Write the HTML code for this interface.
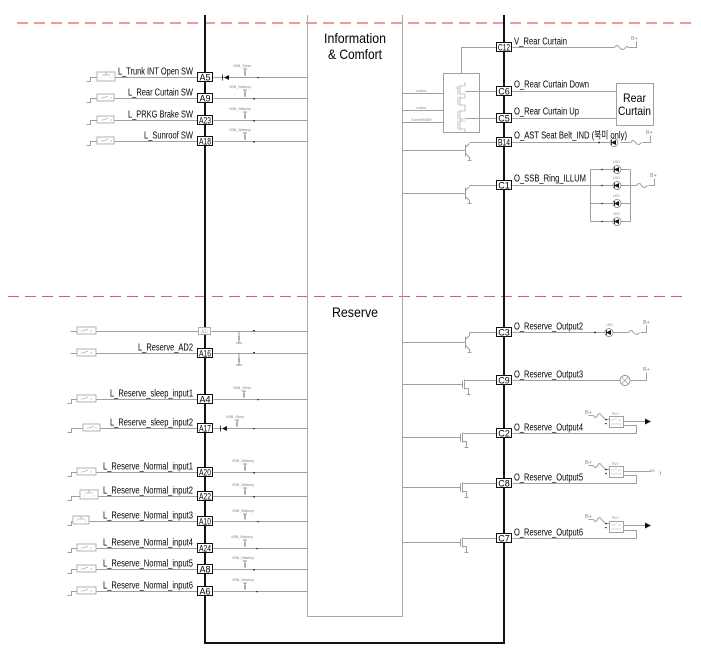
<!DOCTYPE html>
<html><head><meta charset="utf-8"><style>
html,body{margin:0;padding:0;background:#fff;}
svg{display:block;}
text{font-family:"Liberation Sans","Noto Sans CJK KR",sans-serif;}
</style></head><body>
<svg width="701" height="660" viewBox="0 0 701 660" xmlns="http://www.w3.org/2000/svg">
<rect width="701" height="660" fill="#fff"/>

<!-- dashed separators -->
<line x1="17" y1="23" x2="693" y2="23" stroke="#e65a5a" stroke-width="1.2" stroke-dasharray="11 6"/>
<line x1="8" y1="296.5" x2="686" y2="296.5" stroke="#e65a5a" stroke-width="1" stroke-dasharray="11 6"/>

<!-- inner gray box -->
<g stroke="#a8a8a8" stroke-width="1" fill="none" shape-rendering="crispEdges">
<path d="M307.5,15 V616.5 H402.5 V15"/>
</g>

<!-- main black frame -->
<path d="M205,15 V643 H504 V15" fill="none" stroke="#111" stroke-width="2" shape-rendering="crispEdges"/>

<!-- section titles -->
<text x="324" y="43" font-size="14" textLength="62" lengthAdjust="spacingAndGlyphs">Information</text>
<text x="328" y="59" font-size="14" textLength="54" lengthAdjust="spacingAndGlyphs">&amp; Comfort</text>
<text x="332" y="317" font-size="14" textLength="46" lengthAdjust="spacingAndGlyphs">Reserve</text>

<!-- ============ LEFT WIRES ============ -->
<g stroke="#a0a0a0" stroke-width="1" fill="none" shape-rendering="crispEdges" transform="translate(0.5,0.5)">
<path d="M86,81 H90 V77 H97 M115,77 H198 M213,77 H307"/>
<path d="M86,102 H90 V98 H97 M114,98 H198 M213,98 H307"/>
<path d="M86,124 H90 V120 H97 M114,120 H198 M213,120 H307"/>
<path d="M86,145 H90 V141 H97 M114,141 H198 M213,141 H307"/>
<path d="M70,331 H77 M96,331 H198 M211,331 H307"/>
<path d="M70,353 H77 M96,353 H198 M213,353 H307"/>
<path d="M67,403 H71 V399 H77 M96,399 H198 M213,399 H307"/>
<path d="M67,432 H71 V428 H83 M100,428 H198 M213,428 H307"/>
<path d="M67,476 H71 V472 H77 M96,472 H198 M213,472 H307"/>
<path d="M67,500 H71 V496 H80 M98,496 H198 M213,496 H307"/>
<path d="M67,525 H71 V521 H73 M89,521 H198 M213,521 H307"/>
<path d="M67,552 H71 V548 H77 M96,548 H198 M213,548 H307"/>
<path d="M67,573 H71 V569 H77 M96,569 H198 M213,569 H307"/>
<path d="M67,595 H71 V591 H77 M96,591 H198 M213,591 H307"/>
</g>

<!-- switch boxes -->
<g stroke="#a0a0a0" stroke-width="0.8" fill="#fff">
<rect x="97" y="72" width="18" height="9"/>
<rect x="97" y="94" width="17" height="7"/>
<rect x="97" y="116" width="17" height="7"/>
<rect x="97" y="137" width="17" height="7"/>
<rect x="77" y="327" width="19" height="7"/>
<rect x="77" y="349" width="19" height="7"/>
<rect x="77" y="395" width="19" height="7"/>
<rect x="83" y="424" width="17" height="7"/>
<rect x="77" y="468" width="19" height="7"/>
<rect x="80" y="490" width="18" height="9"/>
<rect x="73" y="516" width="16" height="8"/>
<rect x="77" y="544" width="19" height="7"/>
<rect x="77" y="565" width="19" height="7"/>
<rect x="77" y="587" width="19" height="7"/>
</g>
<g stroke="#909090" stroke-width="0.6" fill="none">
<path d="M101,78 h1 M110,78 h1 M106,72 v3 M102,75 h8"/>
<path d="M101,98 h2 l5,-2 M110,98 h2"/>
<path d="M101,120 h2 l5,-2 M110,120 h2"/>
<path d="M101,141 h2 l5,-2 M110,141 h2"/>
<path d="M81,331 h2 l5,-2 M90,331 h2"/>
<path d="M81,353 h2 l5,-2 M90,353 h2"/>
<path d="M81,399 h2 l5,-2 M90,399 h2"/>
<path d="M87,428 h2 l5,-2 M95,428 h2"/>
<path d="M81,472 h2 l5,-2 M90,472 h2"/>
<path d="M84,496 h1 M93,496 h1 M89,490 v3 M85,493 h8"/>
<path d="M76,521 h1 M85,521 h1 M81,516 v3 M77,519 h8"/>
<path d="M81,548 h2 l5,-2 M90,548 h2"/>
<path d="M81,569 h2 l5,-2 M90,569 h2"/>
<path d="M81,591 h2 l5,-2 M90,591 h2"/>
</g>

<!-- left labels -->
<g font-size="10" fill="#000">
<text x="118" y="74.5" textLength="75" lengthAdjust="spacingAndGlyphs">L_Trunk INT Open SW</text>
<text x="128" y="95.5" textLength="65" lengthAdjust="spacingAndGlyphs">L_Rear Curtain SW</text>
<text x="128" y="117.5" textLength="65" lengthAdjust="spacingAndGlyphs">L_PRKG Brake SW</text>
<text x="144" y="138.5" textLength="49" lengthAdjust="spacingAndGlyphs">L_Sunroof SW</text>
<text x="138" y="350.5" textLength="55" lengthAdjust="spacingAndGlyphs">L_Reserve_AD2</text>
<text x="110" y="396.5" textLength="83" lengthAdjust="spacingAndGlyphs">L_Reserve_sleep_input1</text>
<text x="110" y="425.5" textLength="83" lengthAdjust="spacingAndGlyphs">L_Reserve_sleep_input2</text>
<text x="103" y="469.5" textLength="90" lengthAdjust="spacingAndGlyphs">L_Reserve_Normal_input1</text>
<text x="103" y="493.5" textLength="90" lengthAdjust="spacingAndGlyphs">L_Reserve_Normal_input2</text>
<text x="103" y="518.5" textLength="90" lengthAdjust="spacingAndGlyphs">L_Reserve_Normal_input3</text>
<text x="103" y="545.5" textLength="90" lengthAdjust="spacingAndGlyphs">L_Reserve_Normal_input4</text>
<text x="103" y="566.5" textLength="90" lengthAdjust="spacingAndGlyphs">L_Reserve_Normal_input5</text>
<text x="103" y="588.5" textLength="90" lengthAdjust="spacingAndGlyphs">L_Reserve_Normal_input6</text>
</g>

<!-- left pin boxes -->
<g stroke="#111" stroke-width="1" fill="#fff">
<rect x="197.5" y="72.5" width="15" height="9"/>
<rect x="197.5" y="93.5" width="15" height="9"/>
<rect x="197.5" y="115.5" width="15" height="9"/>
<rect x="197.5" y="136.5" width="15" height="9"/>
<rect x="197.5" y="348.5" width="15" height="9"/>
<rect x="197.5" y="394.5" width="15" height="9"/>
<rect x="197.5" y="423.5" width="15" height="9"/>
<rect x="197.5" y="467.5" width="15" height="9"/>
<rect x="197.5" y="491.5" width="15" height="9"/>
<rect x="197.5" y="516.5" width="15" height="9"/>
<rect x="197.5" y="543.5" width="15" height="9"/>
<rect x="197.5" y="564.5" width="15" height="9"/>
<rect x="197.5" y="586.5" width="15" height="9"/>
</g>
<rect x="198.5" y="327.5" width="12" height="7" fill="#fff" stroke="#999" stroke-width="0.8"/>
<text x="201" y="333.5" font-size="5.5" fill="#aaa">A5</text>
<g font-size="9" fill="#000" text-anchor="middle">
<text x="205" y="80.5">A5</text>
<text x="205" y="101.5">A9</text>
<text x="205" y="123.5" textLength="12" lengthAdjust="spacingAndGlyphs">A23</text>
<text x="205" y="144.5" textLength="12" lengthAdjust="spacingAndGlyphs">A18</text>
<text x="205" y="356.5" textLength="12" lengthAdjust="spacingAndGlyphs">A16</text>
<text x="205" y="402.5">A4</text>
<text x="205" y="431.5" textLength="12" lengthAdjust="spacingAndGlyphs">A17</text>
<text x="205" y="475.5" textLength="12" lengthAdjust="spacingAndGlyphs">A20</text>
<text x="205" y="499.5" textLength="12" lengthAdjust="spacingAndGlyphs">A22</text>
<text x="205" y="524.5" textLength="12" lengthAdjust="spacingAndGlyphs">A10</text>
<text x="205" y="551.5" textLength="12" lengthAdjust="spacingAndGlyphs">A24</text>
<text x="205" y="572.5">A8</text>
<text x="205" y="594.5">A6</text>
</g>

<!-- left inner components -->
<path d="M224,77.5 L229,75 V80 Z" fill="#111"/>
<line x1="222.5" y1="74.5" x2="222.5" y2="80.5" stroke="#111" stroke-width="0.8"/>
<path d="M222,428.5 L227,426 V431 Z" fill="#111"/>
<line x1="220.5" y1="425.5" x2="220.5" y2="431.5" stroke="#111" stroke-width="0.8"/>
<g font-size="3.6" fill="#888">
<text x="233" y="67">VBB_Sleep</text>
<text x="229" y="88">VBB_Wakeup</text>
<text x="229" y="110">VBB_Wakeup</text>
<text x="229" y="131">VBB_Wakeup</text>
<text x="233" y="389">VBB_Sleep</text>
<text x="226" y="418">VBB_Sleep</text>
<text x="232" y="462">VBB_Wakeup</text>
<text x="232" y="486">VBB_Wakeup</text>
<text x="232" y="512">VBB_Wakeup</text>
<text x="231" y="538">VBB_Wakeup</text>
<text x="232" y="559">VBB_Wakeup</text>
<text x="232" y="581">VBB_Wakeup</text>
</g>
<g stroke="#777" stroke-width="0.7" fill="none">
<path d="M245,69 V76 M243,69 h4 M244,72 h2 M244,74 h2"/>
<path d="M245,90 V97 M243,90 h4 M244,93 h2 M244,95 h2"/>
<path d="M245,112 V119 M243,112 h4 M244,115 h2 M244,117 h2"/>
<path d="M245,133 V140 M243,133 h4 M244,136 h2 M244,138 h2"/>
<path d="M239,331 V343 M236,343 h6 M238,337 h2 M238,339 h2"/>
<path d="M239,353 V365 M236,365 h6 M238,359 h2 M238,361 h2"/>
<path d="M244,391 V398 M242,391 h4 M243,394 h2 M243,396 h2"/>
<path d="M237,420 V427 M235,420 h4 M236,423 h2 M236,425 h2"/>
<path d="M245,464 V471 M243,464 h4 M244,467 h2 M244,469 h2"/>
<path d="M245,488 V495 M243,488 h4 M244,491 h2 M244,493 h2"/>
<path d="M245,514 V520 M243,514 h4 M244,516 h2 M244,518 h2"/>
<path d="M245,540 V547 M243,540 h4 M244,543 h2 M244,545 h2"/>
<path d="M245,561 V568 M243,561 h4 M244,564 h2 M244,566 h2"/>
<path d="M245,583 V590 M243,583 h4 M244,586 h2 M244,588 h2"/>
</g>
<g fill="#444">
<rect x="257" y="77" width="2" height="1.2"/>
<rect x="253" y="98" width="2" height="1.5"/>
<rect x="253" y="120" width="2" height="1.5"/>
<rect x="253" y="141" width="2" height="1.5"/>
<rect x="253" y="330" width="2" height="1.5"/>
<rect x="253" y="352" width="2" height="1.5"/>
<rect x="257" y="399" width="2" height="1.2"/>
<rect x="253" y="428" width="2" height="1.2"/>
<rect x="253" y="472" width="2" height="1.5"/>
<rect x="253" y="496" width="2" height="1.5"/>
<rect x="257" y="521" width="2" height="1.2"/>
<rect x="256" y="548" width="2" height="1.2"/>
<rect x="253" y="569" width="2" height="1.5"/>
<rect x="256" y="591" width="2" height="1.2"/>
</g>

<!-- ============ RIGHT SIDE ============ -->
<g stroke="#a0a0a0" stroke-width="1" fill="none" shape-rendering="crispEdges" transform="translate(0.5,0.5)">
<rect x="443" y="73" width="36" height="59"/>
<path d="M461,73 V47 H496"/>
<path d="M402,93 H443 M402,110 H443 M402,122 H443"/>
<path d="M465,91 H496 M465,118 H496"/>
<path d="M512,91 H616 M512,118 H616"/>
<path d="M512,47 H614 M628,47 H636 V41"/>
<path d="M402,150 H465 M469,142 H496"/>
<path d="M512,142 H610 M620,142 H630 M642,142 H650 V135"/>
<path d="M402,193 H465 M469,185 H496"/>
<path d="M512,185 H590 M590,169 V221 M630,169 V221 M590,169 H630 M590,185 H630 M590,203 H630 M590,221 H630"/>
<path d="M630,185 H636 M648,185 H654 V178"/>
<path d="M402,342 H465 M469,332 H496"/>
<path d="M512,332 H605 M613,332 H628 M640,332 H646 V325"/>
<path d="M402,384 H462 M462,380 V388 M464,379 V389 M464,380 H496 M464,388 H468 V394 M466,394 H470"/>
<path d="M512,380 H620 M630,380 H646 V372"/>
<path d="M402,437 H460 M460,433 V441 M462,432 V442 M462,433 H496 M462,441 H466 V447 M464,447 H468"/>
<path d="M512,433 H636 V425 H623 M623,421 H645"/>
<path d="M588,415 H593 M605,419 H609"/>
<rect x="609" y="416" width="14" height="11"/>
<path d="M402,487 H460 M460,483 V491 M462,482 V492 M462,483 H496 M462,491 H466 V497 M464,497 H468"/>
<path d="M512,483 H636 V475 H623 M623,471 H650 M660,471 V474"/>
<path d="M588,465 H593 M605,469 H609"/>
<rect x="609" y="466" width="14" height="11"/>
<path d="M402,542 H460 M460,538 V546 M462,537 V547 M462,538 H496 M462,546 H466 V552 M464,552 H468"/>
<path d="M512,538 H636 V530 H623 M623,525 H645"/>
<path d="M588,519 H593 M605,523 H609"/>
<rect x="609" y="521" width="14" height="11"/>
</g>
<!-- transistors & fuses (smooth) -->
<g stroke="#a0a0a0" stroke-width="1" fill="none" transform="translate(0.5,0.5)">
<path d="M614,47 q3,-4 5,0 q3,4 6,0 q1,-2 3,0"/>
<path d="M465,144 V156 M465,147 L469,143 M465,153 L469,157 V160 M467,160 H471"/>
<path d="M630,142 q3,-4 5,0 q3,4 6,0"/>
<path d="M465,187 V199 M465,190 L469,186 M465,196 L469,200 V203 M467,203 H471"/>
<path d="M636,185 q3,-4 5,0 q3,4 6,0"/>
<path d="M465,336 V348 M465,339 L469,335 V332 M465,345 L469,349 V352 M467,352 H471"/>
<path d="M628,332 q3,-4 5,0 q3,4 6,0"/>
<path d="M593,415 q2,4 4,0 q2,-4 4,0 l4,4"/>
<path d="M593,465 q2,4 4,0 q2,-4 4,0 l4,4"/>
<path d="M593,519 q2,4 4,0 q2,-4 4,0 l4,4"/>
</g>

<!-- control box inner mosfets -->
<g stroke="#999" stroke-width="0.6" fill="none">
<path d="M458,86 V94 M460,85 V95 M460,86 H465 V82 M460,94 H465 V98 M458,88 H455"/>
<path d="M458,97 V105 M460,96 V106 M460,98 H465 M460,105 H465 V108"/>
<path d="M458,111 V119 M460,110 V120 M460,111 H465 V108 M460,119 H465"/>
<path d="M458,121 V129 M460,120 V130 M460,121 H465 M460,129 H465 V132"/>
</g>
<g font-size="3.4" fill="#888">
<text x="416" y="92">control</text>
<text x="416" y="109">control</text>
<text x="411" y="121">CurrentSNSR</text>
</g>

<!-- Rear curtain box -->
<rect x="616.5" y="83.5" width="37" height="42" fill="#fff" stroke="#a0a0a0" stroke-width="1"/>
<text x="623" y="102" font-size="12" textLength="23" lengthAdjust="spacingAndGlyphs">Rear</text>
<text x="618" y="115" font-size="12" textLength="33" lengthAdjust="spacingAndGlyphs">Curtain</text>

<!-- LEDs -->
<g stroke="#777" stroke-width="0.7" fill="#fff">
<circle cx="614" cy="142.5" r="4"/>
<circle cx="617" cy="169.5" r="4"/>
<circle cx="617" cy="185.5" r="4"/>
<circle cx="617" cy="203.5" r="4"/>
<circle cx="617" cy="221.5" r="4"/>
<circle cx="609" cy="332.5" r="4"/>
<circle cx="625" cy="380.5" r="5"/>
</g>
<path d="M621.5,377 L628.5,384 M621.5,384 L628.5,377" stroke="#999" stroke-width="0.7"/>
<g fill="#111">
<path d="M611,142.5 L616,140 V145 Z M611,140 h0.8 v5 h-0.8 Z"/>
<path d="M614,169.5 L619,167 V172 Z M614,167 h0.8 v5 h-0.8 Z"/>
<path d="M614,185.5 L619,183 V188 Z M614,183 h0.8 v5 h-0.8 Z"/>
<path d="M614,203.5 L619,201 V206 Z M614,201 h0.8 v5 h-0.8 Z"/>
<path d="M614,221.5 L619,219 V224 Z M614,219 h0.8 v5 h-0.8 Z"/>
<path d="M606,332.5 L611,330 V335 Z M606,330 h0.8 v5 h-0.8 Z"/>
<circle cx="599" cy="142.5" r="0.9"/>
<circle cx="602" cy="169.5" r="0.8"/>
<circle cx="602" cy="185.5" r="0.8"/>
<circle cx="602" cy="203.5" r="0.8"/>
<circle cx="602" cy="221.5" r="0.8"/>
<circle cx="595" cy="332.5" r="0.9"/>
<circle cx="606" cy="419.5" r="0.8"/><circle cx="606" cy="423.5" r="0.8"/>
<circle cx="606" cy="469.5" r="0.8"/><circle cx="606" cy="473.5" r="0.8"/>
<circle cx="606" cy="523.5" r="0.8"/><circle cx="606" cy="527.5" r="0.8"/>
<path d="M645,418.5 L651,421.5 L645,424.5 Z"/>
<path d="M645,522.5 L651,525.5 L645,528.5 Z"/>
</g>
<g font-size="3.6" fill="#888">
<text x="613" y="163">LED</text>
<text x="613" y="179">LED</text>
<text x="613" y="197">LED</text>
<text x="613" y="215">LED</text>
<text x="606" y="326">LED</text>
<text x="612" y="415">RLY</text>
<text x="612" y="465">RLY</text>
<text x="612" y="519">RLY</text>
<text x="650" y="472">BB</text>
</g>
<g stroke="#aaa" stroke-width="0.5" fill="none">
<path d="M611,420 h3 l3,-2 M618,420 h3 M611,424 h10"/>
<path d="M611,470 h3 l3,-2 M618,470 h3 M611,474 h10"/>
<path d="M611,525 h3 l3,-2 M618,525 h3 M611,529 h10"/>
</g>
<g font-size="5.5" fill="#888">
<text x="631" y="40">B+</text>
<text x="646" y="134">B+</text>
<text x="650" y="177">B+</text>
<text x="643" y="324">B+</text>
<text x="643" y="371">B+</text>
<text x="585" y="414">B+</text>
<text x="585" y="464">B+</text>
<text x="585" y="518">B+</text>
</g>

<!-- right pin boxes -->
<g stroke="#111" stroke-width="1" fill="#fff">
<rect x="496.5" y="42.5" width="15" height="9"/>
<rect x="496.5" y="86.5" width="15" height="9"/>
<rect x="496.5" y="113.5" width="15" height="9"/>
<rect x="496.5" y="137.5" width="15" height="9"/>
<rect x="496.5" y="180.5" width="15" height="9"/>
<rect x="496.5" y="327.5" width="15" height="9"/>
<rect x="496.5" y="375.5" width="15" height="9"/>
<rect x="496.5" y="428.5" width="15" height="9"/>
<rect x="496.5" y="478.5" width="15" height="9"/>
<rect x="496.5" y="533.5" width="15" height="9"/>
</g>
<g font-size="9" fill="#000" text-anchor="middle">
<text x="504" y="50.5" textLength="12" lengthAdjust="spacingAndGlyphs">C12</text>
<text x="504" y="94.5">C6</text>
<text x="504" y="121.5">C5</text>
<text x="504" y="145.5" textLength="12" lengthAdjust="spacingAndGlyphs">B14</text>
<text x="504" y="188.5">C1</text>
<text x="504" y="335.5">C3</text>
<text x="504" y="383.5">C9</text>
<text x="504" y="436.5">C2</text>
<text x="504" y="486.5">C8</text>
<text x="504" y="541.5">C7</text>
</g>

<!-- right labels -->
<g font-size="10" fill="#000">
<text x="514" y="44.5" textLength="53" lengthAdjust="spacingAndGlyphs">V_Rear Curtain</text>
<text x="514" y="87.5" textLength="75" lengthAdjust="spacingAndGlyphs">O_Rear Curtain Down</text>
<text x="514" y="114.5" textLength="65" lengthAdjust="spacingAndGlyphs">O_Rear Curtain Up</text>
<text x="514" y="138.5" textLength="113" lengthAdjust="spacingAndGlyphs">O_AST Seat Belt_IND (북미 only)</text>
<text x="514" y="181.5" textLength="72" lengthAdjust="spacingAndGlyphs">O_SSB_Ring_ILLUM</text>
<text x="514" y="329.5" textLength="69" lengthAdjust="spacingAndGlyphs">O_Reserve_Output2</text>
<text x="514" y="377.5" textLength="69" lengthAdjust="spacingAndGlyphs">O_Reserve_Output3</text>
<text x="514" y="430.5" textLength="69" lengthAdjust="spacingAndGlyphs">O_Reserve_Output4</text>
<text x="514" y="480.5" textLength="69" lengthAdjust="spacingAndGlyphs">O_Reserve_Output5</text>
<text x="514" y="535.5" textLength="69" lengthAdjust="spacingAndGlyphs">O_Reserve_Output6</text>
</g>
</svg>
</body></html>
